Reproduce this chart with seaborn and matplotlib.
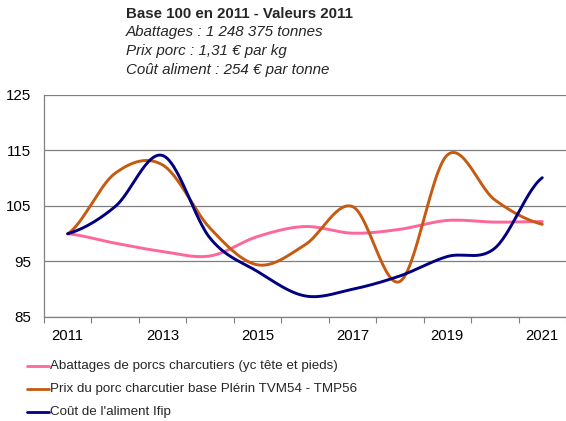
import numpy as np
import pandas as pd
import matplotlib
matplotlib.use("Agg")
import matplotlib.pyplot as plt
import seaborn as sns

years = [2011, 2012, 2013, 2014, 2015, 2016, 2017, 2018, 2019, 2020, 2021]
tick_labels = ["2011", "2013", "2015", "2017", "2019", "2021"]
abattages = [100, 98.3, 96.8, 96.0, 99.5, 101.3, 100.1, 100.8, 102.4, 102.1, 102.2]
prix = [100, 110.9, 112.4, 101.0, 94.4, 98.0, 104.9, 91.4, 114.2, 106.1, 101.7]
cout = [100, 104.9, 114.1, 99.2, 93.2, 88.8, 90.0, 92.4, 95.9, 97.4, 110.1]
names = ["Abattages de porcs charcutiers (yc tête et pieds)",
         "Prix du porc charcutier base Plérin TVM54 - TMP56",
         "Coût de l'aliment Ifip"]
colors = ["#FF6699", "#C55A11", "#000080"]

sns.set_theme(style="white")
plt.rcParams['font.family'] = ['Liberation Sans', 'DejaVu Sans']


def smooth(x, y, n=30):
    # Catmull-Rom style rendering (like Excel smoothed lines)
    x = np.asarray(x, float); y = np.asarray(y, float)
    px = np.concatenate([[2 * x[0] - x[1]], x, [2 * x[-1] - x[-2]]])
    py = np.concatenate([[y[0]], y, [y[-1]]])
    xs, ys = [], []
    for i in range(1, len(px) - 2):
        p0, p1, p2, p3 = (np.array([px[j], py[j]]) for j in range(i - 1, i + 3))
        c1 = p1 + (p2 - p0) / 6.0
        c2 = p2 - (p3 - p1) / 6.0
        t = np.linspace(0, 1, n, endpoint=(i == len(px) - 3))[:, None]
        b = (1 - t) ** 3 * p1 + 3 * (1 - t) ** 2 * t * c1 + 3 * (1 - t) * t ** 2 * c2 + t ** 3 * p2
        xs.append(b[:, 0]); ys.append(b[:, 1])
    return np.concatenate(xs), np.concatenate(ys)


frames = []
for name, vals in zip(names, [abattages, prix, cout]):
    sx, sy = smooth(years, vals)
    frames.append(pd.DataFrame({"x": sx, "y": sy, "serie": name}))
df = pd.concat(frames, ignore_index=True)

fig = plt.figure(figsize=(5.66, 4.21), dpi=100)
ax = fig.add_axes([44 / 566, 1 - 317 / 421, (566 - 44) / 566, (317 - 95) / 421])
sns.lineplot(data=df, x="x", y="y", hue="serie", palette=colors, hue_order=names,
             linewidth=2.1, ax=ax, sort=False, estimator=None, legend=False)

ax.set_xlim(2010.5, 2021.5)
ax.set_ylim(85, 125)
ax.set_yticks([85, 95, 105, 115, 125])
ax.set_xticks([int(t) for t in tick_labels])
ax.set_xticklabels(tick_labels)
ax.set_xticks(np.arange(2010.5, 2021.6, 1), minor=True)
ax.tick_params(axis="x", which="major", length=0, labelsize=10.7, pad=9, colors="black")
ax.tick_params(axis="x", which="minor", length=4, width=0.8, color="#808080", direction="out", bottom=True)
ax.tick_params(axis="y", length=0, labelsize=10.9, pad=9, colors="black")
ax.yaxis.grid(True, color="#7F7F7F", linewidth=0.9)
ax.set_axisbelow(True)
ax.set_xlabel(""); ax.set_ylabel("")
for s in ["top", "right"]:
    ax.spines[s].set_visible(False)
for s in ["left", "bottom"]:
    ax.spines[s].set_color("#808080")
    ax.spines[s].set_linewidth(0.9)

fig.text(126 / 566, 1 - 14 / 421, "Base 100 en 2011 - Valeurs 2011", fontsize=10.8, fontweight="bold", va="center", ha="left")
sub = ["Abattages : 1 248 375 tonnes", "Prix porc : 1,31 € par kg", "Coût aliment : 254 € par tonne"]
for i, t in enumerate(sub):
    fig.text(126 / 566, 1 - (32 + 19 * i) / 421, t, fontsize=10.9, style="italic", va="center", ha="left")

for i, (name, c) in enumerate(zip(names, colors)):
    yy = 1 - (366 + 23 * i) / 421
    fig.add_artist(plt.Line2D([27 / 566, 49 / 566], [yy, yy], color=c, linewidth=2))
    fig.text(50 / 566, yy, name, fontsize=9.6, va="center", ha="left")

fig.savefig("out.png", dpi=100)
